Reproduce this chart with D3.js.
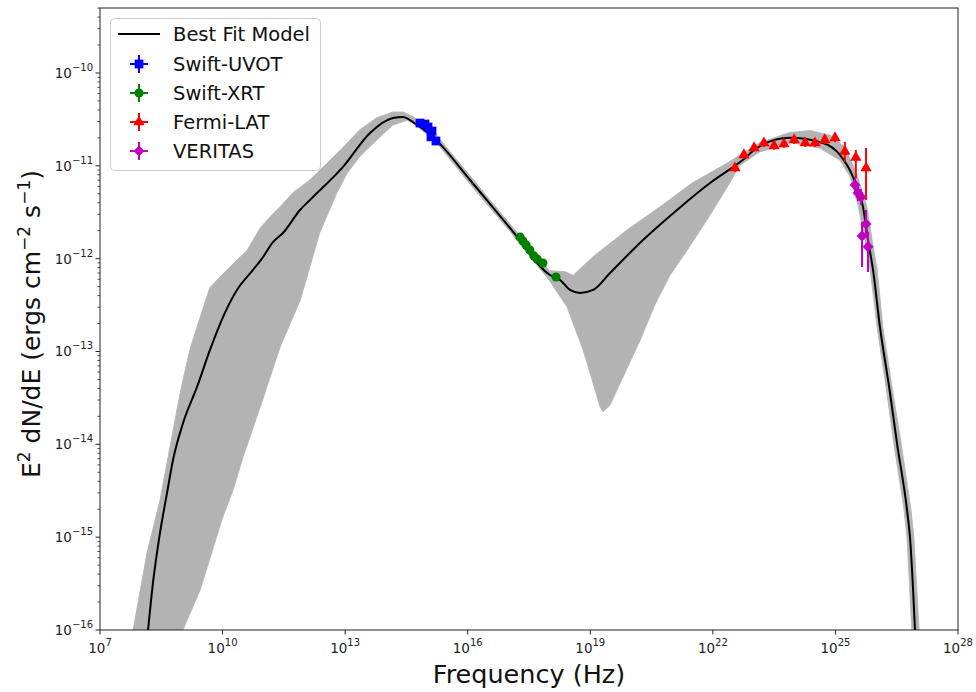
<!DOCTYPE html>
<html><head><meta charset="utf-8">
<script src="https://cdn.jsdelivr.net/npm/d3@7"></script>
<style>body{margin:0;background:#fff}svg{display:block;font-family:"DejaVu Sans",sans-serif}</style>
</head><body><svg id="c" width="976" height="692"></svg>
<script>
// ---- data ----
const modelNu = [1.50e8,1.98e8,2.94e8,4.37e8,6.12e8,1.08e9,2.37e9,4.92e9,1.03e10,2.25e10,5.56e10,9.77e10,1.71e11,3.01e11,7.85e11,1.38e12,8.87e12,4.06e13,1.48e14,2.61e14,4.58e14,1.58e15,1.14e16,1.08e17,1.03e18,1.82e18,3.19e18,5.60e18,1.17e19,3.04e19,1.95e20,1.33e21,8.51e21,5.47e22,1.21e23,7.73e23,4.97e24,1.29e25,2.69e25,4.73e25,6.27e25,8.32e25,1.23e26,2.17e26,3.21e26,5.65e26,6.68e26,8.87e26];
const modelFlux = [1.00e-16,3.21e-16,1.11e-15,2.99e-15,6.78e-15,1.70e-14,4.15e-14,1.04e-13,2.36e-13,4.59e-13,7.55e-13,1.04e-12,1.51e-12,1.89e-12,3.34e-12,4.29e-12,9.73e-12,2.26e-11,3.27e-11,3.36e-11,2.96e-11,1.95e-11,7.03e-12,2.14e-12,6.67e-13,5.89e-13,4.60e-13,4.27e-13,4.60e-13,7.01e-13,1.59e-12,3.35e-12,6.53e-12,1.16e-11,1.56e-11,2.00e-11,1.76e-11,1.31e-11,7.59e-12,3.61e-12,1.59e-12,7.55e-13,1.84e-13,3.57e-14,1.03e-14,1.96e-15,1.00e-15,1.00e-16];

const bandUpNu = [6.46e7,1.41e8,2.95e8,5.13e8,9.12e8,1.58e9,2.82e9,4.90e9,1.29e10,3.98e10,8.32e10,1.45e11,2.57e11,5.25e11,1.38e12,3.63e12,8.91e12,2.29e13,6.03e13,1.48e14,2.63e14,4.57e14,1.58e15,1.15e16,1.10e17,1.02e18,2.40e18,3.80e18,1.17e19,7.94e19,5.13e20,3.24e21,2.24e22,1.41e23,7.76e23,2.40e24,7.41e24,1.70e25,3.39e25,5.89e25,7.94e25,1.05e26,1.45e26,2.57e26,4.07e26,7.08e26,8.32e26,1.12e27];
const bandUpFlux = [1.00e-16,6.76e-16,2.51e-15,9.33e-15,3.55e-14,1.05e-13,2.34e-13,4.90e-13,7.59e-13,1.23e-12,2.14e-12,2.82e-12,3.63e-12,5.13e-12,7.08e-12,1.07e-11,1.58e-11,2.45e-11,3.31e-11,3.80e-11,3.80e-11,3.39e-11,2.24e-11,7.76e-12,2.34e-12,7.41e-13,7.24e-13,6.61e-13,1.05e-12,2.04e-12,3.63e-12,6.61e-12,1.07e-11,1.78e-11,2.29e-11,2.40e-11,2.14e-11,1.59e-11,7.94e-12,3.63e-12,1.58e-12,7.59e-13,1.82e-13,3.55e-14,1.02e-14,1.95e-15,1.00e-15,1.00e-16];

const bandLoNu = [1.07e9,2.82e9,1.02e10,1.82e10,3.16e10,8.32e10,2.57e11,7.94e11,2.40e12,6.31e12,1.12e13,2.29e13,6.03e13,1.48e14,3.31e14,4.57e14,1.58e15,1.15e16,1.10e17,1.02e18,2.69e18,6.61e18,1.17e19,1.74e19,2.04e19,3.02e19,7.08e19,1.66e20,3.80e20,8.91e20,2.34e21,7.24e21,2.24e22,4.68e22,1.41e23,7.76e23,4.17e24,1.29e25,2.29e25,3.55e25,5.25e25,7.08e25,1.05e26,1.82e26,2.69e26,4.79e26,5.62e26,7.41e26];
const bandLoFlux = [1.00e-16,2.69e-16,1.66e-15,3.24e-15,7.24e-15,2.51e-14,1.12e-13,3.55e-13,1.91e-12,5.13e-12,8.32e-12,1.26e-11,1.91e-11,2.75e-11,3.09e-11,2.88e-11,1.86e-11,6.31e-12,1.95e-12,5.75e-13,3.02e-13,1.05e-13,4.57e-14,2.51e-14,2.24e-14,2.63e-14,5.89e-14,1.32e-13,3.16e-13,6.61e-13,1.23e-12,2.63e-12,5.89e-12,1.02e-11,1.41e-11,1.78e-11,1.55e-11,1.15e-11,7.59e-12,3.80e-12,1.58e-12,7.59e-13,1.82e-13,3.55e-14,1.02e-14,1.95e-15,1.00e-15,1.00e-16];

const uvotNu = [6.79e14,9.00e14,1.07e15,1.34e15,1.26e15,1.67e15];
const uvotFlux = [2.89e-11,2.82e-11,2.62e-11,2.37e-11,2.05e-11,1.85e-11];

const xrtNu = [1.91e17,2.24e17,2.69e17,3.31e17,4.17e17,5.01e17,6.92e17,1.45e18];
const xrtFlux = [1.71e-12,1.55e-12,1.40e-12,1.24e-12,1.07e-12,9.91e-13,8.97e-13,6.34e-13];

const fermiNu = [3.47e22,5.75e22,1.02e23,1.78e23,3.16e23,5.50e23,9.77e23,1.82e24,3.16e24,5.50e24,9.77e24,1.70e25,3.16e25,5.62e25];
const fermiFlux = [9.48e-12,1.31e-11,1.56e-11,1.76e-11,1.64e-11,1.72e-11,1.90e-11,1.76e-11,1.76e-11,1.90e-11,2.00e-11,1.43e-11,1.23e-11,9.48e-12];
const fermiLo = [8.6e-12,1.19e-11,1.42e-11,1.60e-11,1.49e-11,1.56e-11,1.72e-11,1.60e-11,1.60e-11,1.72e-11,1.80e-11,1.10e-11,7.40e-12,4.29e-12];
const fermiHi = [1.04e-11,1.44e-11,1.72e-11,1.94e-11,1.80e-11,1.89e-11,2.09e-11,1.94e-11,1.94e-11,2.09e-11,2.26e-11,1.81e-11,1.48e-11,1.56e-11];

const veritasNu = [3.01e25,3.57e25,4.23e25,5.61e25,4.48e25,6.28e25];
const veritasFlux = [6.21e-12,5.09e-12,4.61e-12,2.36e-12,1.75e-12,1.34e-12];
const veritasLo = [5.09e-12,4.17e-12,3.78e-12,1.67e-12,8.13e-13,7.18e-13];
const veritasHi = [7.57e-12,6.21e-12,5.62e-12,3.34e-12,2.48e-12,1.94e-12];
const veritasNuLo = [2.50e25,2.97e25,3.52e25,4.67e25,3.73e25,5.22e25];
const veritasNuHi = [3.62e25,4.29e25,5.08e25,6.74e25,5.38e25,7.55e25];

const xTickVals = [1e7,1e10,1e13,1e16,1e19,1e22,1e25,1e28];
const xTickExp = ["7","10","13","16","19","22","25","28"];
const yTickVals = [1e-16,1e-15,1e-14,1e-13,1e-12,1e-11,1e-10];
const yTickExp = ["\u221216","\u221215","\u221214","\u221213","\u221212","\u221211","\u221210"];

const legendLabels = ["Best Fit Model","Swift-UVOT","Swift-XRT","Fermi-LAT","VERITAS"];
const colors = {uvot:"#0000ff", xrt:"#008000", fermi:"#ff0000", veritas:"#bf00bf", band:"#b3b3b3"};

// ---- layout ----
const L=100, R=958, T=8, B=630;
const svg = d3.select("#c");
const x = d3.scaleLog().domain([1e7,1e28]).range([L,R]);
const y = d3.scaleLog().domain([1e-16, 5.01e-10]).range([B,T]);

svg.append("clipPath").attr("id","clip").append("rect").attr("x",L).attr("y",T).attr("width",R-L).attr("height",B-T);
const plot = svg.append("g").attr("clip-path","url(#clip)");

// band polygon
const bandPts = bandUpNu.map((n,i)=>[n,bandUpFlux[i]])
  .concat(bandLoNu.map((n,i)=>[n,bandLoFlux[i]]).reverse());
plot.append("path")
  .attr("d", d3.line().x(d=>x(d[0])).y(d=>y(d[1])).curve(d3.curveLinearClosed)(bandPts))
  .attr("fill", colors.band).attr("stroke", colors.band).attr("stroke-width",0.8);

// model curve
const modelPts = modelNu.map((n,i)=>[n,modelFlux[i]]);
plot.append("path")
  .attr("d", d3.line().x(d=>x(d[0])).y(d=>y(d[1])).curve(d3.curveMonotoneX)(modelPts))
  .attr("fill","none").attr("stroke","#000").attr("stroke-width",2);

// helper to draw errorbars + markers
function drawSeries(nu, fl, lo, hi, nlo, nhi, color, symbolPath, rot){
  const g = plot.append("g");
  nu.forEach((n,i)=>{
    if(lo) g.append("line").attr("x1",x(n)).attr("x2",x(n)).attr("y1",y(lo[i])).attr("y2",y(hi[i]))
      .attr("stroke",color).attr("stroke-width",2);
    if(nlo) g.append("line").attr("x1",x(nlo[i])).attr("x2",x(nhi[i])).attr("y1",y(fl[i])).attr("y2",y(fl[i]))
      .attr("stroke",color).attr("stroke-width",2);
  });
  nu.forEach((n,i)=>{
    g.append("path").attr("d",symbolPath)
      .attr("transform",`translate(${x(n)},${y(fl[i])})${rot?" rotate(45)":""}`)
      .attr("fill",color);
  });
}
const sqPath = d3.symbol().type(d3.symbolSquare).size(76)();
const circPath = d3.symbol().type(d3.symbolCircle).size(66)();
const triPath = d3.symbol().type(d3.symbolTriangle).size(56)();
const diaPath = d3.symbol().type(d3.symbolSquare).size(60)();

drawSeries(uvotNu, uvotFlux, null, null, null, null, colors.uvot, sqPath, false);
drawSeries(xrtNu, xrtFlux, null, null, null, null, colors.xrt, circPath, false);
drawSeries(fermiNu, fermiFlux, fermiLo, fermiHi, null, null, colors.fermi, triPath, false);
drawSeries(veritasNu, veritasFlux, veritasLo, veritasHi, veritasNuLo, veritasNuHi, colors.veritas, diaPath, true);

// ---- axes ----
const axisColor = "#222";
const ax = svg.append("g");
const yMinor = [];
for(let e=-16;e<=-10;e++) for(let k=2;k<=9;k++){ const v=k*Math.pow(10,e); if(v<=y.domain()[1]) yMinor.push(v); }
ax.selectAll(".ym").data(yMinor).enter().append("line")
  .attr("x1",L-2.5).attr("x2",L).attr("y1",d=>y(d)).attr("y2",d=>y(d)).attr("stroke",axisColor).attr("stroke-width",0.8);
ax.selectAll(".yM").data(yTickVals).enter().append("line")
  .attr("x1",L-4.5).attr("x2",L).attr("y1",d=>y(d)).attr("y2",d=>y(d)).attr("stroke",axisColor).attr("stroke-width",1);
ax.selectAll(".xM").data(xTickVals).enter().append("line")
  .attr("x1",d=>x(d)).attr("x2",d=>x(d)).attr("y1",B).attr("y2",B+4.5).attr("stroke",axisColor).attr("stroke-width",1);

yTickVals.forEach((v,i)=>{
  const t = ax.append("text").attr("x",L-7).attr("y",y(v)+5).attr("text-anchor","end")
    .attr("font-size",13.5).attr("fill","#222");
  t.append("tspan").text("10");
  t.append("tspan").attr("dy",-7).attr("font-size",10).text(yTickExp[i]);
});
xTickVals.forEach((v,i)=>{
  const t = ax.append("text").attr("x",x(v)).attr("y",B+23).attr("text-anchor","middle")
    .attr("font-size",13.5).attr("fill","#222");
  t.append("tspan").text("10");
  t.append("tspan").attr("dy",-7).attr("font-size",10).text(xTickExp[i]);
});

svg.append("rect").attr("x",L).attr("y",T).attr("width",R-L).attr("height",B-T)
  .attr("fill","none").attr("stroke",axisColor).attr("stroke-width",1);

// axis labels
svg.append("text").attr("x",(L+R)/2).attr("y",683).attr("text-anchor","middle")
  .attr("font-size",25.5).attr("fill","#111").text("Frequency (Hz)");
const yl = svg.append("text").attr("transform",`translate(40,${(T+B)/2+5}) rotate(-90)`)
  .attr("text-anchor","middle").attr("font-size",25).attr("fill","#111");
yl.append("tspan").text("E");
yl.append("tspan").attr("dy",-10).attr("font-size",17).text("2");
yl.append("tspan").attr("dy",10).text(" dN/dE (ergs cm");
yl.append("tspan").attr("dy",-10).attr("font-size",17).text("\u22122");
yl.append("tspan").attr("dy",10).text(" s");
yl.append("tspan").attr("dy",-10).attr("font-size",17).text("\u22121");
yl.append("tspan").attr("dy",10).text(")");

// ---- legend ----
const lg = svg.append("g");
lg.append("rect").attr("x",110.5).attr("y",18.5).attr("width",210).attr("height",152).attr("rx",4)
  .attr("fill","#fff").attr("fill-opacity",0.85).attr("stroke","#cccccc").attr("stroke-width",1);
const rowY = [34,64,93,122,151];
lg.append("line").attr("x1",118).attr("x2",160).attr("y1",rowY[0]).attr("y2",rowY[0]).attr("stroke","#000").attr("stroke-width",2);
const legSyms = [[colors.uvot,sqPath,false],[colors.xrt,circPath,false],[colors.fermi,triPath,false],[colors.veritas,diaPath,true]];
legSyms.forEach((s,i)=>{
  const cy=rowY[i+1], cx=139;
  lg.append("line").attr("x1",cx).attr("x2",cx).attr("y1",cy-9).attr("y2",cy+9).attr("stroke",s[0]).attr("stroke-width",2);
  lg.append("line").attr("x1",cx-9).attr("x2",cx+9).attr("y1",cy).attr("y2",cy).attr("stroke",s[0]).attr("stroke-width",2);
  lg.append("path").attr("d",s[1]).attr("transform",`translate(${cx},${cy})${s[2]?" rotate(45)":""}`).attr("fill",s[0]);
});
legendLabels.forEach((t,i)=>{
  lg.append("text").attr("x",173).attr("y",rowY[i]+7).attr("font-size",19.5).attr("fill","#111").text(t);
});
</script></body></html>
